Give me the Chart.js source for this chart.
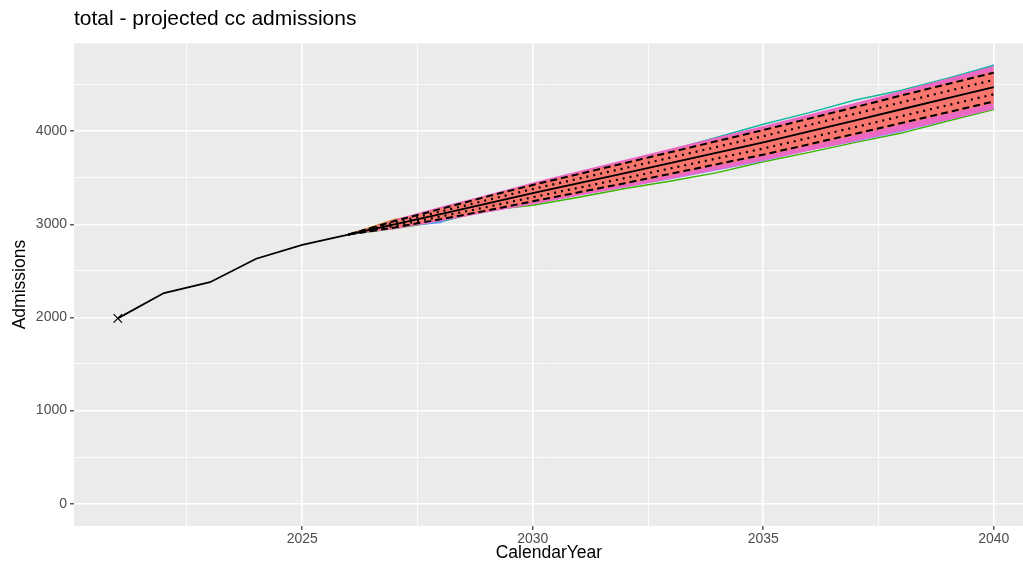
<!DOCTYPE html>
<html>
<head>
<meta charset="utf-8">
<title>total - projected cc admissions</title>
<script src="https://cdn.jsdelivr.net/npm/chart.js@4.4.1/dist/chart.umd.min.js"></script>
<style>
    html, body { margin: 0; padding: 0; background: #fff; overflow: hidden; }
    canvas { display: block; }
</style>
</head>
<body>
<canvas id="chart" width="1031" height="564"></canvas>
<script>
// Observed history
var histYears = [2021, 2022, 2023, 2024, 2025, 2026];
var histValues = [1990, 2262, 2378, 2630, 2778, 2890];

// Projection years
var projYears = [2026, 2027, 2028, 2029, 2030, 2031, 2032, 2033, 2034, 2035, 2036, 2037, 2038, 2039, 2040];

// Projection summary lines
var median      = [2890, 3000, 3110, 3222, 3335, 3442, 3550, 3660, 3770, 3880, 3998, 4116, 4236, 4355, 4474];
var dottedUpper = [2890, 3017, 3137, 3259, 3379, 3491, 3604, 3718, 3832, 3946, 4067, 4188, 4310, 4431, 4551];
var dottedLower = [2890, 2983, 3083, 3185, 3291, 3393, 3496, 3602, 3708, 3814, 3929, 4044, 4162, 4279, 4397];
var dashedUpper = [2890, 3035, 3165, 3297, 3423, 3540, 3658, 3776, 3894, 4012, 4136, 4259, 4384, 4507, 4629];
var dashedLower = [2890, 2965, 3055, 3147, 3247, 3344, 3442, 3544, 3646, 3748, 3860, 3973, 4088, 4203, 4319];

// Envelope of the simulation runs
var pinkUpper = [2890, 3052, 3188, 3315, 3450, 3572, 3694, 3815, 3935, 4055, 4182, 4305, 4435, 4565, 4700];
var pinkLower = [2890, 2948, 3032, 3126, 3214, 3306, 3396, 3490, 3585, 3685, 3790, 3895, 4005, 4118, 4236];
var redUpper  = [2890, 3040, 3172, 3305, 3432, 3550, 3668, 3787, 3905, 4024, 4148, 4272, 4397, 4521, 4645];
var redLower  = [2890, 2960, 3048, 3138, 3236, 3332, 3430, 3530, 3632, 3734, 3845, 3957, 4071, 4186, 4300];

// Individual runs that poke out of the envelope
var simTeal   = [2890, 3010, 3095, 3285, 3400, 3515, 3655, 3800, 3935, 4075, 4200, 4335, 4440, 4570, 4705];
var simBlue   = [2890, 2975, 3020, 3308, 3415, 3545, 3665, 3775, 3885, 4000, 4125, 4255, 4395, 4555, 4712];
var simGreen  = [2890, 2955, 3030, 3150, 3205, 3290, 3385, 3465, 3555, 3672, 3772, 3880, 3980, 4110, 4232];
var simPurple = [2890, 2962, 3042, 3138, 3225, 3318, 3405, 3490, 3585, 3685, 3800, 3895, 4000, 4125, 4245];
var simOrange = [2890, 3052, 3130, 3240, 3350, 3460, 3565, 3670, 3780, 3890, 4000, 4110, 4230, 4350, 4460];
var simCyan   = [2890, 2985, 3028, 3160, 3230, 3330, 3420, 3510, 3600, 3700, 3810, 3920, 4030, 4140, 4250];

// Axis ticks
var xTickValues = [2025, 2030, 2035, 2040];
var xTickLabels = ['2025', '2030', '2035', '2040'];
var xMinorValues = [2022.5, 2027.5, 2032.5, 2037.5];
var yTickValues = [0, 1000, 2000, 3000, 4000];
var yTickLabels = ['0', '1000', '2000', '3000', '4000'];
var yMinorValues = [500, 1500, 2500, 3500, 4500];

(function () {
    'use strict';

    Chart.defaults.font.family = '"Liberation Sans", Arial, Helvetica, sans-serif';

    function pts(years, values) {
        return years.map(function (y, i) { return { x: y, y: values[i] }; });
    }

    function tickList(major, minor) {
        return major.concat(minor).sort(function (a, b) { return a - b; })
            .map(function (v) { return { value: v }; });
    }

    function line(values, color, width, dash) {
        return {
            data: pts(projYears, values),
            borderColor: color,
            borderWidth: width,
            borderDash: dash || [],
            pointRadius: 0,
            fill: false,
            tension: 0
        };
    }

    function band(values, color) {
        return {
            data: pts(projYears, values),
            borderColor: 'rgba(0,0,0,0)',
            borderWidth: 1,
            backgroundColor: color,
            pointRadius: 0,
            fill: '+1',
            tension: 0
        };
    }

    function bandEdge(values) {
        return {
            data: pts(projYears, values),
            borderColor: 'rgba(0,0,0,0)',
            borderWidth: 1,
            pointRadius: 0,
            fill: false,
            tension: 0
        };
    }

    var panelBg = {
        id: 'panelBg',
        beforeDraw: function (chart) {
            var a = chart.chartArea, c = chart.ctx;
            c.save();
            c.fillStyle = '#EBEBEB';
            c.fillRect(a.left, a.top, a.right - a.left, a.bottom - a.top);
            c.restore();
        }
    };

    function gridWidth(major) {
        return function (ctx) {
            return major.indexOf(ctx.tick.value) >= 0 ? 1.6 : 0.8;
        };
    }
    function tickColor(major) {
        return function (ctx) {
            return major.indexOf(ctx.tick.value) >= 0 ? '#333333' : 'rgba(0,0,0,0)';
        };
    }

    // index 0 is drawn last (on top)
    var datasets = [
        {
            data: pts(histYears, histValues),
            borderColor: '#000',
            borderWidth: 1.8,
            pointStyle: 'crossRot',
            pointRadius: [6, 0, 0, 0, 0, 0],
            pointBorderColor: '#000',
            pointBorderWidth: 1.2,
            fill: false,
            tension: 0
        },
        line(median, '#000', 1.9),
        line(dottedUpper, '#000', 2.2, [2, 5]),
        line(dottedLower, '#000', 2.2, [2, 5]),
        line(dashedUpper, '#000', 2, [7, 4]),
        line(dashedLower, '#000', 2, [7, 4]),
        band(redUpper, '#F8766D'),
        bandEdge(redLower),
        band(pinkUpper, '#EB69C2'),
        bandEdge(pinkLower),
        line(simOrange, '#D89000', 1.4),
        line(simTeal, '#10B79E', 1.4),
        line(simBlue, '#619CFF', 1.4),
        line(simCyan, '#00BCD8', 1.4),
        line(simPurple, '#A58AFF', 1.4),
        line(simGreen, '#39B600', 1.4)
    ];

    new Chart(document.getElementById('chart'), {
        type: 'line',
        data: { datasets: datasets },
        plugins: [panelBg],
        options: {
            responsive: false,
            animation: false,
            devicePixelRatio: 1,
            layout: { padding: 0 },
            plugins: {
                legend: { display: false },
                tooltip: { enabled: false },
                title: {
                    display: true,
                    text: 'total - projected cc admissions',
                    align: 'start',
                    fullSize: false,
                    color: '#000',
                    font: { size: 21, weight: 'normal' },
                    padding: { top: 7, bottom: 11 }
                }
            },
            scales: {
                x: {
                    type: 'linear',
                    min: 2020.05,
                    max: 2040.65,
                    afterBuildTicks: function (s) { s.ticks = tickList(xTickValues, xMinorValues); },
                    afterFit: function (s) { s.height = 38; },
                    ticks: {
                        autoSkip: false,
                        maxRotation: 0,
                        padding: 1,
                        color: '#4D4D4D',
                        font: { size: 14 },
                        callback: function (v) {
                            var i = xTickValues.indexOf(v);
                            return i >= 0 ? xTickLabels[i] : '';
                        }
                    },
                    grid: {
                        color: '#FFFFFF',
                        lineWidth: gridWidth(xTickValues),
                        tickColor: tickColor(xTickValues),
                        tickLength: 4,
                        tickWidth: 1.2
                    },
                    border: { display: false },
                    title: {
                        display: true,
                        text: 'CalendarYear',
                        color: '#000',
                        font: { size: 17.5 },
                        padding: { top: 0, bottom: 0 }
                    }
                },
                y: {
                    type: 'linear',
                    min: -240,
                    max: 4945,
                    afterBuildTicks: function (s) { s.ticks = tickList(yTickValues, yMinorValues); },
                    afterFit: function (s) { s.width = 74; },
                    ticks: {
                        padding: 3,
                        color: '#4D4D4D',
                        font: { size: 14 },
                        callback: function (v) {
                            var i = yTickValues.indexOf(v);
                            return i >= 0 ? yTickLabels[i] : '';
                        }
                    },
                    grid: {
                        color: '#FFFFFF',
                        lineWidth: gridWidth(yTickValues),
                        tickColor: tickColor(yTickValues),
                        tickLength: 4,
                        tickWidth: 1.2
                    },
                    border: { display: false },
                    title: {
                        display: true,
                        text: 'Admissions',
                        color: '#000',
                        font: { size: 17.5 },
                        padding: { top: 10, bottom: 0 }
                    }
                }
            }
        }
    });
})();
</script>
</body>
</html>
